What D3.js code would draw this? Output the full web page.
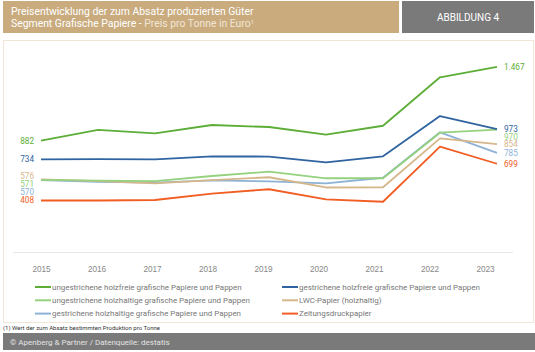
<!DOCTYPE html>
<html lang="de">
<head>
<meta charset="UTF-8">
<title>Preisentwicklung Grafische Papiere</title>
<script src="https://cdn.jsdelivr.net/npm/d3@7"></script>
<style>
	body { margin: 0; font-family: Roboto, "Noto Sans", sans-serif; background: #fff; }
	.axis text { font-size: 8.2px; fill: #888; }
	.legend text { font-size: 7.95px; fill: #777; }
	.val { font-size: 8.2px; }
</style>
</head>
<body>
<script>
var years = [2015, 2016, 2017, 2018, 2019, 2020, 2021, 2022, 2023];

var seriesNames = [
	'ungestrichene holzfreie grafische Papiere und Pappen',
	'gestrichene holzfreie grafische Papiere und Pappen',
	'ungestrichene holzhaltige grafische Papiere und Pappen',
	'LWC-Papier (holzhaltig)',
	'gestrichene holzhaltige grafische Papiere und Pappen',
	'Zeitungsdruckpapier'
];

var ungestrHolzfrei = [882, 968, 940, 1006, 990, 929, 1000, 1384, 1467];
var gestrHolzfrei   = [734, 735, 733, 758, 756, 710, 758, 1077, 973];
var ungestrHolzhalt = [571, 566, 562, 602, 636, 584, 584, 945, 970];
var lwcPapier       = [576, 562, 544, 570, 592, 511, 513, 900, 854];
var gestrHolzhalt   = [570, 556, 549, 568, 560, 544, 588, 948, 785];
var zeitung         = [408, 408, 412, 462, 497, 417, 398, 834, 699];

var seriesColors = ['#5dae38', '#2f64a0', '#95d17e', '#d6b78b', '#8db2d6', '#f25d24'];

var series = [ungestrHolzfrei, gestrHolzfrei, ungestrHolzhalt, lwcPapier, gestrHolzhalt, zeitung]
	.map((values, i) => ({ name: seriesNames[i], color: seriesColors[i], values: values }));

var fmt = v => d3.format(',')(v).replace(/,/g, '.');

var W = 535, H = 352;
var svg = d3.select('body').append('svg').attr('width', W).attr('height', H);

// header
svg.append('rect').attr('x', 3).attr('y', 1).attr('width', 396).attr('height', 32).attr('fill', '#c9ab7e');
svg.append('rect').attr('x', 402).attr('y', 1).attr('width', 132).attr('height', 32).attr('fill', '#7a7a7a');
svg.append('text').attr('x', 11).attr('y', 14.5).attr('fill', '#fff').style('font-size', '10.4px')
	.text('Preisentwicklung der zum Absatz produzierten Güter');
var t2 = svg.append('text').attr('x', 11).attr('y', 27).attr('fill', '#fff').style('font-size', '10.4px');
t2.append('tspan').text('Segment Grafische Papiere - ');
t2.append('tspan').attr('fill', '#f1e6d6').text('Preis pro Tonne in Euro');
t2.append('tspan').attr('fill', '#f1e6d6').attr('dy', -3).style('font-size', '6px').text('1');
svg.append('text').attr('x', 468).attr('y', 21).attr('text-anchor', 'middle').attr('fill', '#fff')
	.style('font-size', '10px').text('ABBILDUNG 4');

// chart frame
svg.append('rect').attr('x', 3.5).attr('y', 40.5).attr('width', 530).attr('height', 282)
	.attr('fill', '#fff').attr('stroke', '#f0e5d6');

var x = d3.scalePoint().domain(years).range([41, 497]);
var xLabel = d3.scalePoint().domain(years).range([41, 485]);
var y = d3.scaleLinear().domain([0, 1600]).range([252, 50]);

svg.append('line').attr('x1', 13).attr('x2', 513).attr('y1', 252.5).attr('y2', 252.5)
	.attr('stroke', '#e6e6e6');

var axis = svg.append('g').attr('class', 'axis').attr('transform', 'translate(0,252)')
	.call(d3.axisBottom(xLabel).tickSize(0).tickPadding(14));
axis.select('.domain').remove();

var line = d3.line().x((d, i) => x(years[i])).y(d => y(d));

svg.append('g').selectAll('path')
	.data(series.slice().reverse())
	.join('path')
	.attr('d', d => line(d.values))
	.attr('fill', 'none')
	.attr('stroke', d => d.color)
	.attr('stroke-width', 1.8)
	.attr('stroke-linejoin', 'round');

// end labels: push down, then pull back up so the lowest keeps its place
function spread(items, gap) {
	items.sort((a, b) => a.y - b.y);
	var n = items.length, lastY = items[n - 1].y;
	for (var j = 1; j < n; j++)
		if (items[j].y - items[j - 1].y < gap) items[j].y = items[j - 1].y + gap;
	items[n - 1].y = Math.min(items[n - 1].y, lastY);
	for (var i = n - 2; i >= 0; i--)
		if (items[i + 1].y - items[i].y < gap) items[i].y = items[i + 1].y - gap;
	return items;
}

var leftLabels = spread(series.map(s => ({ s: s, v: s.values[0], y: y(s.values[0]) })), 8);
var rightLabels = spread(series.map(s => ({ s: s, v: s.values[8], y: y(s.values[8]) })), 7.7);

svg.append('g').selectAll('text').data(leftLabels).join('text')
	.attr('class', 'val')
	.attr('x', x(years[0]) - 7).attr('y', d => d.y).attr('dy', '0.35em')
	.attr('text-anchor', 'end').attr('fill', d => d.s.color)
	.text(d => fmt(d.v));

svg.append('g').selectAll('text').data(rightLabels).join('text')
	.attr('class', 'val')
	.attr('x', x(years[8]) + 7).attr('y', d => d.y).attr('dy', '0.35em')
	.attr('fill', d => d.s.color)
	.text(d => fmt(d.v));

// legend, two columns
var legend = svg.append('g').attr('class', 'legend').selectAll('g')
	.data(series).join('g')
	.attr('transform', (d, i) => 'translate(' + (i % 2 ? 282 : 35) + ',' + (287 + Math.floor(i / 2) * 13.3) + ')');
legend.append('line').attr('x1', 0).attr('x2', 16).attr('stroke', d => d.color).attr('stroke-width', 2);
legend.append('text').attr('x', 17).attr('dy', '0.35em').text(d => d.name);

// footnote and footer
svg.append('text').attr('x', 3).attr('y', 330).attr('fill', '#333').style('font-size', '6px')
	.text('(1) Wert der zum Absatz bestimmten Produktion pro Tonne');
svg.append('rect').attr('x', 3).attr('y', 333).attr('width', 532).attr('height', 17).attr('fill', '#7a7a7a');
svg.append('text').attr('x', 10).attr('y', 345).attr('fill', '#e4e4e4').style('font-size', '8px')
	.text('© Apenberg & Partner / Datenquelle: destatis');
</script>
</body>
</html>
